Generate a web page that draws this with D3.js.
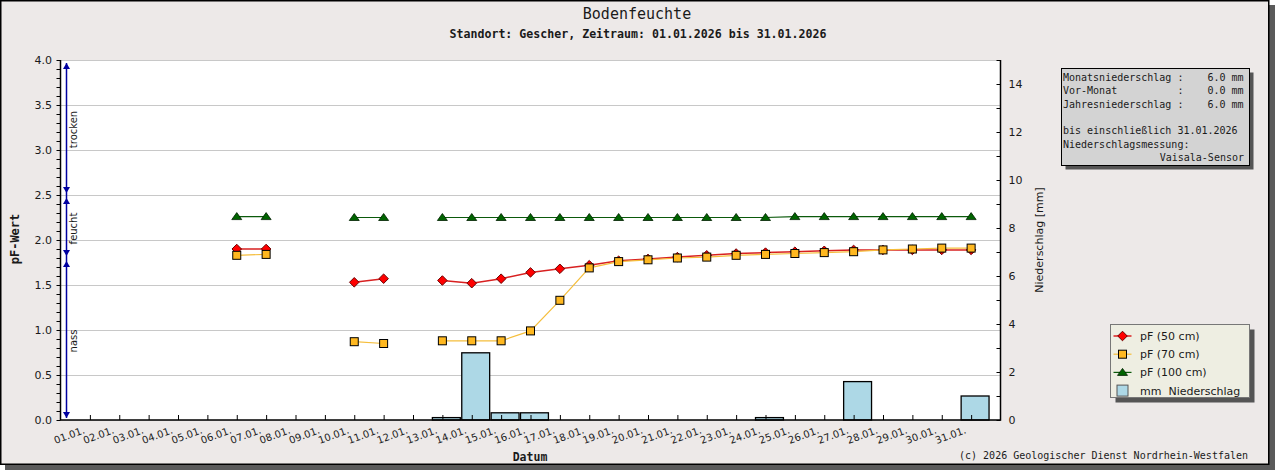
<!DOCTYPE html>
<html>
<head>
<meta charset="utf-8">
<script src="https://cdn.jsdelivr.net/npm/d3@7"></script>
<style>
  body { margin: 0; background: #ffffff; }
  text { fill: #1a1a1a; }
  .mono { font-family: "DejaVu Sans Mono", monospace; }
  .sans { font-family: "DejaVu Sans", sans-serif; }
  .pre { white-space: pre; }
</style>
</head>
<body>
<div id="chart"></div>
<script>
// soil moisture (pF) per depth, one value per day of January 2026 (null = no reading)
var days = d3.range(1, 32);
var pf50 = [null, null, null, null, null, 1.90, 1.90, null, null, 1.53, 1.57, null,
    1.55, 1.52, 1.57, 1.64, 1.68, 1.72, 1.77, 1.79, 1.81, 1.83, 1.85, 1.86, 1.87, 1.88, 1.89, 1.89, 1.89, 1.89, 1.89];
var pf70 = [null, null, null, null, null, 1.83, 1.84, null, null, 0.87, 0.85, null,
    0.88, 0.88, 0.88, 0.99, 1.33, 1.69, 1.76, 1.78, 1.80, 1.81, 1.83, 1.84, 1.85, 1.86, 1.87, 1.89, 1.90, 1.91, 1.91];
var pf100 = [null, null, null, null, null, 2.26, 2.26, null, null, 2.25, 2.25, null,
    2.25, 2.25, 2.25, 2.25, 2.25, 2.25, 2.25, 2.25, 2.25, 2.25, 2.25, 2.25, 2.26, 2.26, 2.26, 2.26, 2.26, 2.26, 2.26];
// daily precipitation in mm
var precip = [0, 0, 0, 0, 0, 0, 0, 0, 0, 0, 0, 0, 0.1, 2.8, 0.3, 0.3, 0, 0, 0, 0, 0, 0, 0, 0.1, 0, 0, 1.6, 0, 0, 0, 1.0];

var pfTicks = [0, 0.5, 1.0, 1.5, 2.0, 2.5, 3.0, 3.5, 4.0];
var mmTicks = [0, 2, 4, 6, 8, 10, 12, 14];
var zones = [{ name: 'trocken', lo: 2.5, hi: 4.0 }, { name: 'feucht', lo: 1.8, hi: 2.5 }, { name: 'nass', lo: 0, hi: 1.8 }];
var legendLabels = ['pF (50 cm)', 'pF (70 cm)', 'pF (100 cm)', 'mm  Niederschlag'];
var infoLines = ['Monatsniederschlag :    6.0 mm', 'Vor-Monat          :    0.0 mm', 'Jahresniederschlag :    6.0 mm',
    '', 'bis einschließlich 31.01.2026', 'Niederschlagsmessung:'];
var infoSensor = 'Vaisala-Sensor';

var W = 1275, H = 470;
var plotL = 61, plotR = 1000.5, plotT = 60, plotB = 420;

var svg = d3.select('#chart').append('svg').attr('width', W).attr('height', H);

// frame + shadow
svg.append('rect').attr('x', 5).attr('y', 5).attr('width', 1270).attr('height', 465).attr('fill', '#5a5a5a');
svg.append('rect').attr('x', 0.75).attr('y', 0.75).attr('width', 1268).attr('height', 463.5)
    .attr('fill', '#ede9e8').attr('stroke', '#000').attr('stroke-width', 1.5);

svg.append('text').attr('class', 'mono').attr('x', 637).attr('y', 19).attr('text-anchor', 'middle')
    .style('font-size', '15px').text('Bodenfeuchte');
svg.append('text').attr('class', 'mono').attr('x', 638).attr('y', 38).attr('text-anchor', 'middle')
    .style('font-size', '11.6px').style('font-weight', 'bold')
    .text('Standort: Gescher, Zeitraum: 01.01.2026 bis 31.01.2026');

// scales
var x = d3.scaleTime().domain([new Date(2025, 11, 31), new Date(2026, 1, 1)]).range([plotL - 0.5, plotR]);
var y = d3.scaleLinear().domain([0, 4]).range([plotB, plotT]);
var y2 = d3.scaleLinear().domain([0, 15]).range([plotB, plotT]);
var dateOf = function (d) { return new Date(2026, 0, d); };
var dayW = x(dateOf(2)) - x(dateOf(1));

// plot area
svg.append('rect').attr('x', plotL).attr('y', plotT).attr('width', plotR - plotL).attr('height', plotB - plotT).attr('fill', '#fff');

svg.append('g').selectAll('line').data(pfTicks).enter().append('line')
    .attr('x1', plotL).attr('x2', plotR).attr('y1', function (d) { return Math.round(y(d)) + 0.5; })
    .attr('y2', function (d) { return Math.round(y(d)) + 0.5; })
    .attr('stroke', '#c8c8c8').attr('stroke-width', 1);

// precipitation bars
svg.append('g').selectAll('rect').data(days.filter(function (d) { return precip[d - 1] > 0; })).enter().append('rect')
    .attr('x', function (d) { return x(dateOf(d)) - dayW * 0.34; })
    .attr('width', dayW * 0.95)
    .attr('y', function (d) { return y2(precip[d - 1]); })
    .attr('height', function (d) { return plotB - y2(precip[d - 1]); })
    .attr('fill', '#add8e6').attr('stroke', '#000').attr('stroke-width', 1.3);

// axes
var xTicks = svg.append('g').attr('transform', 'translate(0,' + plotB + ')')
    .call(d3.axisTop(x).tickValues(days.map(dateOf)).tickSize(5).tickFormat(''));
var xLabels = svg.append('g').attr('transform', 'translate(0,' + plotB + ')')
    .call(d3.axisBottom(x).tickValues(days.map(dateOf)).tickSize(0).tickFormat(d3.timeFormat('%d.%m.')));
xLabels.selectAll('text').attr('y', 0).attr('dy', 0).attr('x', 0)
    .attr('transform', 'translate(-5,13) rotate(-20)').style('text-anchor', 'end')
    .attr('class', 'sans').style('font-size', '10px');

var yMinor = svg.append('g').attr('transform', 'translate(' + (plotL - 0.5) + ',0)')
    .call(d3.axisLeft(y).ticks(40).tickSize(4).tickFormat(''));
var yLabels = svg.append('g').attr('transform', 'translate(' + plotL + ',0)')
    .call(d3.axisLeft(y).tickValues(pfTicks).tickSize(0).tickPadding(9).tickFormat(d3.format('.1f')));
yLabels.selectAll('text').attr('class', 'sans').style('font-size', '11px');

var y2Ticks = svg.append('g').attr('transform', 'translate(' + plotR + ',0)')
    .call(d3.axisLeft(y2).tickValues(d3.range(0, 16)).tickSize(4).tickFormat(''));
var y2Labels = svg.append('g').attr('transform', 'translate(' + plotR + ',0)')
    .call(d3.axisRight(y2).tickValues(mmTicks).tickSize(0).tickPadding(8));
y2Labels.selectAll('text').attr('class', 'sans').style('font-size', '11px');

[xTicks, xLabels, yMinor, yLabels, y2Ticks, y2Labels].forEach(function (g) {
    g.selectAll('.domain').remove();
    g.selectAll('line').attr('stroke', '#000');
});

svg.append('path').attr('d', 'M' + (plotL - 0.5) + ',' + plotT + 'V' + plotB + 'H' + plotR + 'V' + plotT)
    .attr('fill', 'none').attr('stroke', '#000').attr('stroke-width', 1.5);

svg.append('text').attr('class', 'mono').attr('transform', 'translate(19,239) rotate(-90)')
    .attr('text-anchor', 'middle').style('font-size', '12px').style('font-weight', 'bold').text('pF-Wert');
svg.append('text').attr('class', 'sans').attr('transform', 'translate(1043,240) rotate(-90)')
    .attr('text-anchor', 'middle').style('font-size', '11px').text('Niederschlag [mm]');
svg.append('text').attr('class', 'mono').attr('x', 530).attr('y', 461).attr('text-anchor', 'middle')
    .style('font-size', '11.5px').style('font-weight', 'bold').text('Datum');

// moisture zones on the left
var zx = 66.5;
var zoneG = svg.append('g');
zoneG.append('line').attr('x1', zx).attr('x2', zx).attr('y1', y(4) + 3).attr('y2', y(0) - 2)
    .attr('stroke', '#0000a0').attr('stroke-width', 1.5);
zones.forEach(function (z) {
    var tUp = y(z.hi) + 3, tDn = y(z.lo) - 2;
    zoneG.append('path').attr('d', 'M' + zx + ',' + tUp + 'l3.5,6h-7z').attr('fill', '#0000a0');
    zoneG.append('path').attr('d', 'M' + zx + ',' + tDn + 'l3.5,-6h-7z').attr('fill', '#0000a0');
    zoneG.append('text').attr('class', 'sans')
        .attr('transform', 'translate(' + (zx + 10) + ',' + ((y(z.hi) + y(z.lo)) / 2 + 2) + ') rotate(-90)')
        .attr('text-anchor', 'middle').style('font-size', '10px').text(z.name);
});

// series
var marker = {
    diamond: function (g) {
        g.append('path').attr('d', d3.symbol().type(d3.symbolDiamond2).size(58))
            .attr('fill', '#ff0000').attr('stroke', '#6a0000').attr('stroke-width', 1).attr('stroke-linejoin', 'round');
    },
    square: function (g) {
        g.append('rect').attr('x', -4).attr('y', -4).attr('width', 8).attr('height', 8)
            .attr('fill', '#ffb820').attr('stroke', '#000').attr('stroke-width', 1);
    },
    triangle: function (g) {
        g.append('path').attr('d', 'M0,-4L5,3H-5Z').attr('fill', '#006400').attr('stroke', '#002000').attr('stroke-width', 0.8);
    }
};
var series = [
    { values: pf50, line: '#d82020', lw: 1.5, mark: marker.diamond },
    { values: pf70, line: '#f5be3c', lw: 1.2, mark: marker.square },
    { values: pf100, line: '#0b5a0b', lw: 1.2, mark: marker.triangle }
];
var line = d3.line().defined(function (d) { return d.v != null; })
    .x(function (d) { return x(dateOf(d.day)); }).y(function (d) { return y(d.v); });

series.forEach(function (s) {
    var pts = days.map(function (d) { return { day: d, v: s.values[d - 1] }; });
    svg.append('path').datum(pts).attr('d', line).attr('fill', 'none').attr('stroke', s.line).attr('stroke-width', s.lw);
    svg.append('g').selectAll('g').data(pts.filter(function (p) { return p.v != null; })).enter().append('g')
        .attr('transform', function (p) { return 'translate(' + x(dateOf(p.day)) + ',' + y(p.v) + ')'; })
        .each(function () { s.mark(d3.select(this)); });
});

// info box
var ib = { x: 1061.5, y: 68.5, w: 188, h: 97 };
svg.append('rect').attr('x', ib.x + 4).attr('y', ib.y + 4).attr('width', ib.w).attr('height', ib.h).attr('fill', '#555');
svg.append('rect').attr('x', ib.x).attr('y', ib.y).attr('width', ib.w).attr('height', ib.h)
    .attr('fill', '#d3d3d3').attr('stroke', '#000').attr('stroke-width', 1);
svg.append('g').selectAll('text').data(infoLines).enter().append('text')
    .attr('class', 'mono pre').attr('x', 1063).attr('y', function (d, i) { return 81 + i * 13.3; })
    .style('font-size', '10px').text(function (d) { return d; });
svg.append('text').attr('class', 'mono').attr('x', 1244).attr('y', 81 + 6 * 13.3).attr('text-anchor', 'end')
    .style('font-size', '10px').text(infoSensor);

// legend
var lg = { x: 1110.5, y: 324.5, w: 139, h: 73 };
svg.append('rect').attr('x', lg.x + 5).attr('y', lg.y + 5).attr('width', lg.w).attr('height', lg.h).attr('fill', '#555');
svg.append('rect').attr('x', lg.x).attr('y', lg.y).attr('width', lg.w).attr('height', lg.h)
    .attr('fill', '#eeeee2').attr('stroke', '#777').attr('stroke-width', 1);
legendLabels.forEach(function (label, i) {
    var cy = 336 + i * 18.2;
    var g = svg.append('g').attr('transform', 'translate(1122.5,' + cy + ')');
    if (i < 3) {
        g.append('line').attr('x1', -9).attr('x2', 9).attr('stroke', series[i].line).attr('stroke-width', series[i].lw);
        series[i].mark(g);
    } else {
        g.append('rect').attr('x', -5.5).attr('y', -5.5).attr('width', 11).attr('height', 11)
            .attr('fill', '#add8e6').attr('stroke', '#555').attr('stroke-width', 1);
    }
    svg.append('text').attr('class', 'sans pre').attr('x', 1140).attr('y', cy + 4)
        .style('font-size', '11px').text(label);
});

svg.append('text').attr('class', 'mono').attr('x', 1248).attr('y', 459).attr('text-anchor', 'end')
    .style('font-size', '10px').text('(c) 2026 Geologischer Dienst Nordrhein-Westfalen');
</script>
</body>
</html>
